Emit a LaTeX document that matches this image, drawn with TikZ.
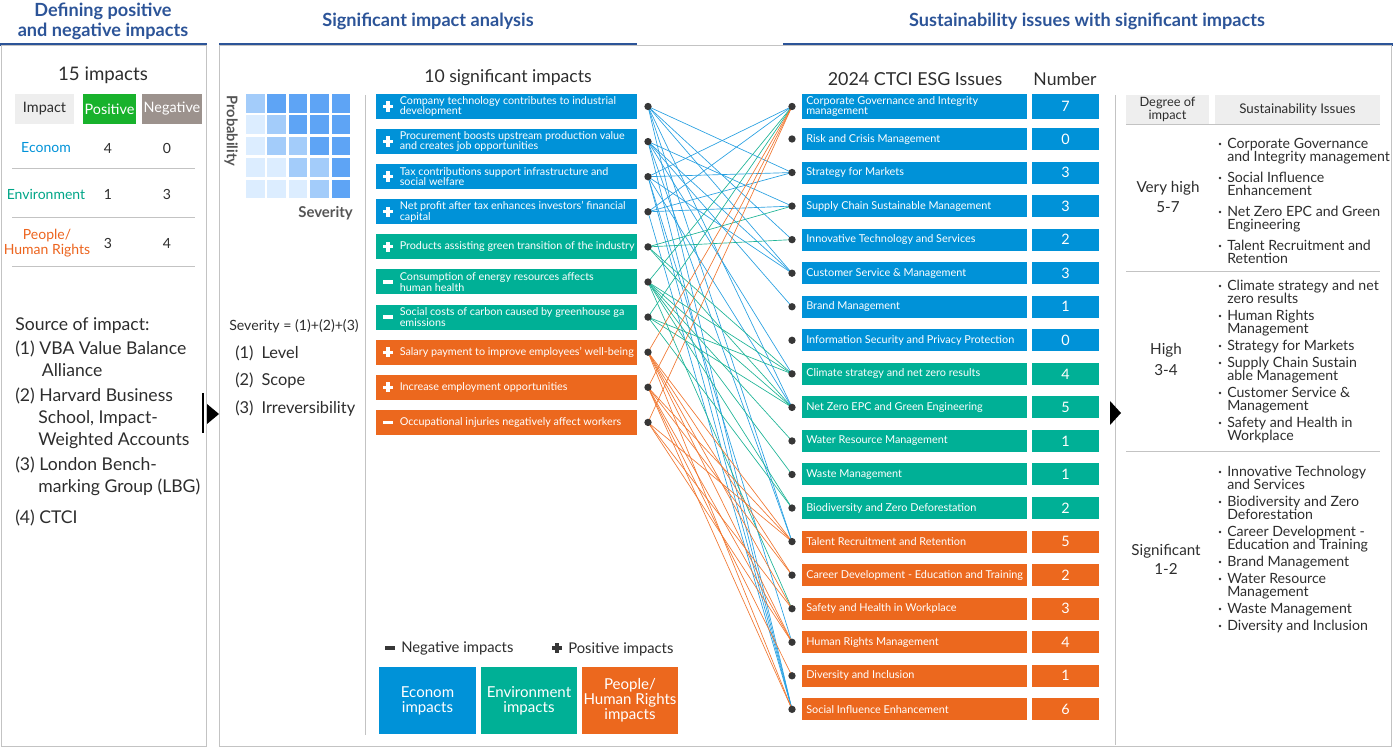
\documentclass[tikz,border=0pt]{standalone}
\usepackage{fontspec}
\setmainfont{Lato}
\definecolor{tblue}{RGB}{44,84,152}
\definecolor{cblue}{RGB}{0,146,216}
\definecolor{cgreen}{RGB}{0,176,150}
\definecolor{corange}{RGB}{236,104,30}
\definecolor{lblue}{RGB}{40,160,225}
\definecolor{lgreen}{RGB}{30,180,150}
\definecolor{lorange}{RGB}{240,120,50}
\definecolor{txt}{RGB}{45,45,45}
\definecolor{gline}{RGB}{195,195,195}
\definecolor{hdr}{RGB}{238,238,238}
\definecolor{posg}{RGB}{24,178,44}
\definecolor{negg}{RGB}{156,146,141}
\definecolor{gA}{RGB}{220,237,255}
\definecolor{gB}{RGB}{163,204,250}
\definecolor{gC}{RGB}{94,164,245}
\definecolor{dotc}{RGB}{55,55,55}
\definecolor{sevc}{RGB}{85,85,85}
\definecolor{econc}{RGB}{0,146,216}
\definecolor{envc}{RGB}{0,165,135}
\definecolor{peoc}{RGB}{236,100,30}
\newcommand{\fs}[2]{\fontsize{#1}{#2}\selectfont}
\pgfdeclarelayer{bg}
\pgfsetlayers{bg,main}
\tikzset{
  ttl/.style={font=\bfseries\fs{13.6}{15}, text=tblue, align=center, inner sep=0},
  panel/.style={draw=gline, line width=0.75pt},
  bluebar/.style={draw=tblue, line width=2.25pt},
  sep/.style={draw=gline, line width=0.75pt},
  tx/.style={text=txt, inner sep=0},
  dot/.style={circle, fill=dotc, minimum size=5.5pt, inner sep=0},
  conn/.style={line width=0.5pt},
  wtext/.style={text=white, inner sep=0, align=left, anchor=west},
  wbar/.style={fill=white, inner sep=0},
  dbar/.style={fill=dotc, inner sep=0},
  cell/.style={minimum size=13.9pt, inner sep=0},
  bul/.style={circle, fill=txt, minimum size=2.2pt, inner sep=0},
  item/.style={text=txt, inner sep=0, align=left, anchor=north west, font=\fs{10.6}{9.75}},
}
\begin{document}
\begin{tikzpicture}[x=0.75pt,y=-0.75pt]
\useasboundingbox (0,0) rectangle (1393,748);
% ---------- titles and panels
\node[ttl] (t1) at (103,21) {Defining positive\\and negative impacts};
\node[ttl] (t2) at (428,21) {Significant impact analysis};
\node[ttl] (t3) at (1087,21) {Sustainability issues with significant impacts};
\draw[bluebar] (0,45) -- (207,45);
\draw[bluebar] (219,45) -- (637,45);
\draw[sep] (637,46) -- (783,46);
\draw[bluebar] (783,45) -- (1393,45);
\draw[panel] (1,46) rectangle (206,746);
\draw[panel] (219,46) rectangle (1391,746);
\draw[sep] (365,95) -- (365,735);
\draw[sep] (1115,95) -- (1115,745);
% ---------- left panel
\node[tx, font=\fs{14}{16}] (n15) at (103,75) {15 impacts};
\node[fill=hdr, minimum width=44.25pt, minimum height=22.5pt, inner sep=0, text=txt, font=\fs{10.8}{12}] (hImp) at (44.5,109) {Impact};
\node[fill=posg, minimum width=39.75pt, minimum height=22.5pt, inner sep=0, text=white, font=\fs{10.8}{12}] (hPos) at (109.5,109) {Positive};
\node[fill=negg, minimum width=45pt, minimum height=22.5pt, inner sep=0, text=white, font=\fs{10.8}{12}] (hNeg) at (172,109) {Negative};
\node[inner sep=0, text=econc, font=\fs{10.5}{12}] (rEc) at (46,148) {Econom};
\node[inner sep=0, text=envc, font=\fs{10.5}{12}] (rEn) at (46,194) {Environment};
\node[inner sep=0, text=peoc, font=\fs{10.5}{11.5}, align=center] (rPe) at (47,243) {People/\\Human Rights};
\node[tx, font=\fs{10.5}{12}] (ec1) at (108,148) {4};
\node[tx, font=\fs{10.5}{12}] (ec2) at (167,148) {0};
\node[tx, font=\fs{10.5}{12}] (en1) at (108,194) {1};
\node[tx, font=\fs{10.5}{12}] (en2) at (167,194) {3};
\node[tx, font=\fs{10.5}{12}] (pe1) at (108,243) {3};
\node[tx, font=\fs{10.5}{12}] (pe2) at (167,243) {4};
\draw[sep] (12,169) -- (195,169);
\draw[sep] (12,218) -- (195,218);
\draw[sep] (12,267) -- (195,267);
\node[tx, font=\fs{13.2}{16.5}, anchor=west] (src) at (15,326) {Source of impact:};
\node[tx, font=\fs{13.2}{16.5}, anchor=north west, align=left] (s1src) at (15,341) {(1) VBA Value Balance\\\hspace*{20pt}Alliance};
\node[tx, font=\fs{13.2}{16.5}, anchor=north west, align=left] (s2src) at (15,388) {(2) Harvard Business\\\hspace*{17.3pt}School, Impact-\\\hspace*{17.3pt}Weighted Accounts};
\node[tx, font=\fs{13.2}{16.5}, anchor=north west, align=left] (s3src) at (15,457) {(3) London Bench-\\\hspace*{17.3pt}marking Group (LBG)};
\node[tx, font=\fs{13.2}{16.5}, anchor=north west, align=left] (s4src) at (15,510) {(4) CTCI};
\draw[line width=1.5pt] (203,393) -- (203,433);
\fill (207,404) -- (207,424) -- (219,414) -- cycle;
\fill (1110,401) -- (1110,425) -- (1121,413) -- cycle;
% ---------- probability grid
\foreach \r/\cs in {1/{gB,gC,gC,gC,gC},2/{gA,gB,gC,gC,gC},3/{gA,gB,gB,gC,gC},4/{gA,gA,gB,gB,gC},5/{gA,gA,gA,gB,gC}}{
  \foreach \c [count=\k] in \cs {
    \node[cell, fill=\c] (g\r\k) at ({246+9.3+21.4*(\k-1)},{94+9.3+21.4*(\r-1)}) {};
  }
}
\node[inner sep=0, rotate=-90, text=sevc, font=\bfseries\fs{11}{12}] (prob) at (231,131) {Probability};
\node[inner sep=0, anchor=east, text=sevc, font=\bfseries\fs{11.2}{12}] (sevl) at (353,213) {Severity};
\node[tx, anchor=west, font=\fs{10.6}{12}] (sevf) at (229,326) {Severity = (1)+(2)+(3)};
\node[tx, anchor=west, font=\fs{12.3}{14}] (lv1) at (235,353) {(1)\hspace{6pt}Level};
\node[tx, anchor=west, font=\fs{12.3}{14}] (lv2) at (235,381) {(2)\hspace{6pt}Scope};
\node[tx, anchor=west, font=\fs{12.3}{14}] (lv3) at (235,409) {(3)\hspace{6pt}Irreversibility};
% ---------- impacts
\node[tx, font=\fs{13.2}{14}] (h10) at (508,78) {10 significant impacts};
\foreach \i/\c/\t [evaluate=\i as \yc using {106.5+35.1*(\i-1)}] in {
  1/cblue/{Company technology contributes to industrial\\development},
  2/cblue/{Procurement boosts upstream production value\\and creates job opportunities},
  3/cblue/{Tax contributions support infrastructure and\\social welfare},
  4/cblue/{Net profit after tax enhances investors’ financial\\capital},
  5/cgreen/{Products assisting green transition of the industry},
  6/cgreen/{Consumption of energy resources affects\\human health},
  7/cgreen/{Social costs of carbon caused by greenhouse ga\\emissions},
  8/corange/{Salary payment to improve employees’ well-being},
  9/corange/{Increase employment opportunities},
  10/corange/{Occupational injuries negatively affect workers}}{
  \node[fill=\c, minimum width=195.75pt, minimum height=18.75pt, inner sep=0] (imp\i) at (506.5,\yc) {};
  \node[wtext, font=\fs{8.1}{7.9}] (impt\i) at (399.5,\yc) {\t};
  \node[dot] (s\i) at (648,\yc) {};
  \node[wbar, minimum width=7.8pt, minimum height=2.4pt] (mh\i) at (388,\yc) {};
}
\foreach \i [evaluate=\i as \yc using {106.5+35.1*(\i-1)}] in {1,2,3,4,5,8,9}{
  \node[wbar, minimum width=2.4pt, minimum height=7.8pt] (mv\i) at (388,\yc) {};
}
% ---------- legend
\node[dbar, minimum width=7.5pt, minimum height=2.4pt] (lgm) at (390,648) {};
\node[tx, anchor=west, font=\fs{11.1}{12}] (lgmt) at (401,648) {Negative impacts};
\node[dbar, minimum width=7.5pt, minimum height=2.4pt] (lgph) at (557,648) {};
\node[dbar, minimum width=2.4pt, minimum height=7.5pt] (lgpv) at (557,648) {};
\node[tx, anchor=west, font=\fs{11.1}{12}] (lgpt) at (568,649) {Positive impacts};
\node[fill=cblue, minimum width=72.75pt, minimum height=50.25pt, inner sep=0, text=white, align=center, font=\fs{11.3}{11.3}] (lb1) at (427.5,700.5) {Econom\\impacts};
\node[fill=cgreen, minimum width=72pt, minimum height=50.25pt, inner sep=0, text=white, align=center, font=\fs{11.3}{11.3}] (lb2) at (529,700.5) {Environment\\impacts};
\node[fill=corange, minimum width=72pt, minimum height=50.25pt, inner sep=0, text=white, align=center, font=\fs{11.3}{11.3}] (lb3) at (630,700.5) {People/\\Human Rights\\impacts};
% ---------- issues
\node[tx, font=\fs{13.4}{14}] (hIss) at (915,79) {2024 CTCI ESG Issues};
\node[tx, font=\fs{13.2}{14}] (hNum) at (1065,79) {Number};
\foreach \i/\c/\n/\t [evaluate=\i as \yc using {ifthenelse(\i==0,106.5,139+33.55*(\i-1))}, evaluate=\i as \hh using {ifthenelse(\i==0,18.75,16.5)}] in {
  0/cblue/7/{Corporate Governance and Integrity\\management},
  1/cblue/0/{Risk and Crisis Management},
  2/cblue/3/{Strategy for Markets},
  3/cblue/3/{Supply Chain Sustainable Management},
  4/cblue/2/{Innovative Technology and Services},
  5/cblue/3/{Customer Service \& Management},
  6/cblue/1/{Brand Management},
  7/cblue/0/{Information Security and Privacy Protection},
  8/cgreen/4/{Climate strategy and net zero results},
  9/cgreen/5/{Net Zero EPC and Green Engineering},
  10/cgreen/1/{Water Resource Management},
  11/cgreen/1/{Waste Management},
  12/cgreen/2/{Biodiversity and Zero Deforestation},
  13/corange/5/{Talent Recruitment and Retention},
  14/corange/2/{Career Development - Education and Training},
  15/corange/3/{Safety and Health in Workplace},
  16/corange/4/{Human Rights Management},
  17/corange/1/{Diversity and Inclusion},
  18/corange/6/{Social Influence Enhancement}}{
  \node[fill=\c, minimum width=168.75pt, minimum height=\hh pt, inner sep=0] (iss\i) at (914.5,\yc) {};
  \node[wtext, font=\fs{8.15}{7.8}] (isst\i) at (806,\yc) {\t};
  \node[fill=\c, minimum width=50.25pt, minimum height=\hh pt, inner sep=0, text=white, font=\fs{10.8}{12}] (num\i) at (1065.5,\yc) {\n};
  \node[dot] (t\i) at (792,\yc) {};
}
% ---------- connectors
\begin{pgfonlayer}{bg}
\foreach \s/\t in {1/2,1/4,1/5,1/9,1/13,1/18,2/3,2/5,2/6,2/8,2/13,2/18,3/0,3/2,3/5,3/9,3/16,3/18,4/0,4/2,4/3,4/18}
  \draw[conn, lblue] (s\s.center) -- (t\t.center);
\foreach \s/\t in {5/3,5/4,5/8,5/9,6/0,6/8,6/9,6/10,6/11,6/12,6/15,7/0,7/8,7/9,7/12}
  \draw[conn, lgreen] (s\s.center) -- (t\t.center);
\foreach \s/\t in {8/0,8/13,8/14,8/15,8/16,8/18,9/0,9/13,9/14,9/16,9/17,9/18,10/0,10/13,10/15,10/16}
  \draw[conn, lorange] (s\s.center) -- (t\t.center);
\end{pgfonlayer}
% ---------- right table
\node[fill=hdr, minimum width=62.25pt, minimum height=21.75pt, inner sep=0, text=txt, align=center, font=\fs{9.6}{7.6}] (hDeg) at (1167.5,109.5) {Degree of\\impact};
\node[fill=hdr, minimum width=123.75pt, minimum height=21.75pt, inner sep=0, text=txt, font=\fs{10}{10}] (hSus) at (1297.5,109.5) {Sustainability Issues};
\draw[sep] (1126,125) -- (1380,125);
\draw[sep] (1126,272) -- (1380,272);
\draw[sep] (1126,452) -- (1380,452);
\node[tx, align=center, font=\fs{11.4}{15}] (dVH) at (1168,197) {Very high\\5-7};
\node[tx, align=center, font=\fs{11.4}{15.5}] (dH) at (1166,359.5) {High\\3-4};
\node[tx, align=center, font=\fs{11.4}{14.5}] (dS) at (1166,559.5) {Significant\\1-2};
\foreach \k/\yc/\t in {
  a/144/{Corporate Governance\\and Integrity management},
  b/178/{Social Influence\\Enhancement},
  c/212/{Net Zero EPC and Green\\Engineering},
  d/246/{Talent Recruitment and\\Retention},
  e/286/{Climate strategy and net\\zero results},
  f/316/{Human Rights\\Management},
  g/346/{Strategy for Markets},
  h/363/{Supply Chain Sustain\\able Management},
  i/393/{Customer Service \&\\Management},
  j/423/{Safety and Health in\\Workplace},
  k/472/{Innovative Technology\\and Services},
  l/502/{Biodiversity and Zero\\Deforestation},
  m/532/{Career Development -\\Education and Training},
  n/562/{Brand Management},
  o/579/{Water Resource\\Management},
  p/609/{Waste Management},
  q/626/{Diversity and Inclusion}}{
  \node[bul] (b\k) at (1220,\yc) {};
  \node[item] (it\k) at (1227,\yc-6.3) {\t};
}
\end{tikzpicture}
\end{document}
